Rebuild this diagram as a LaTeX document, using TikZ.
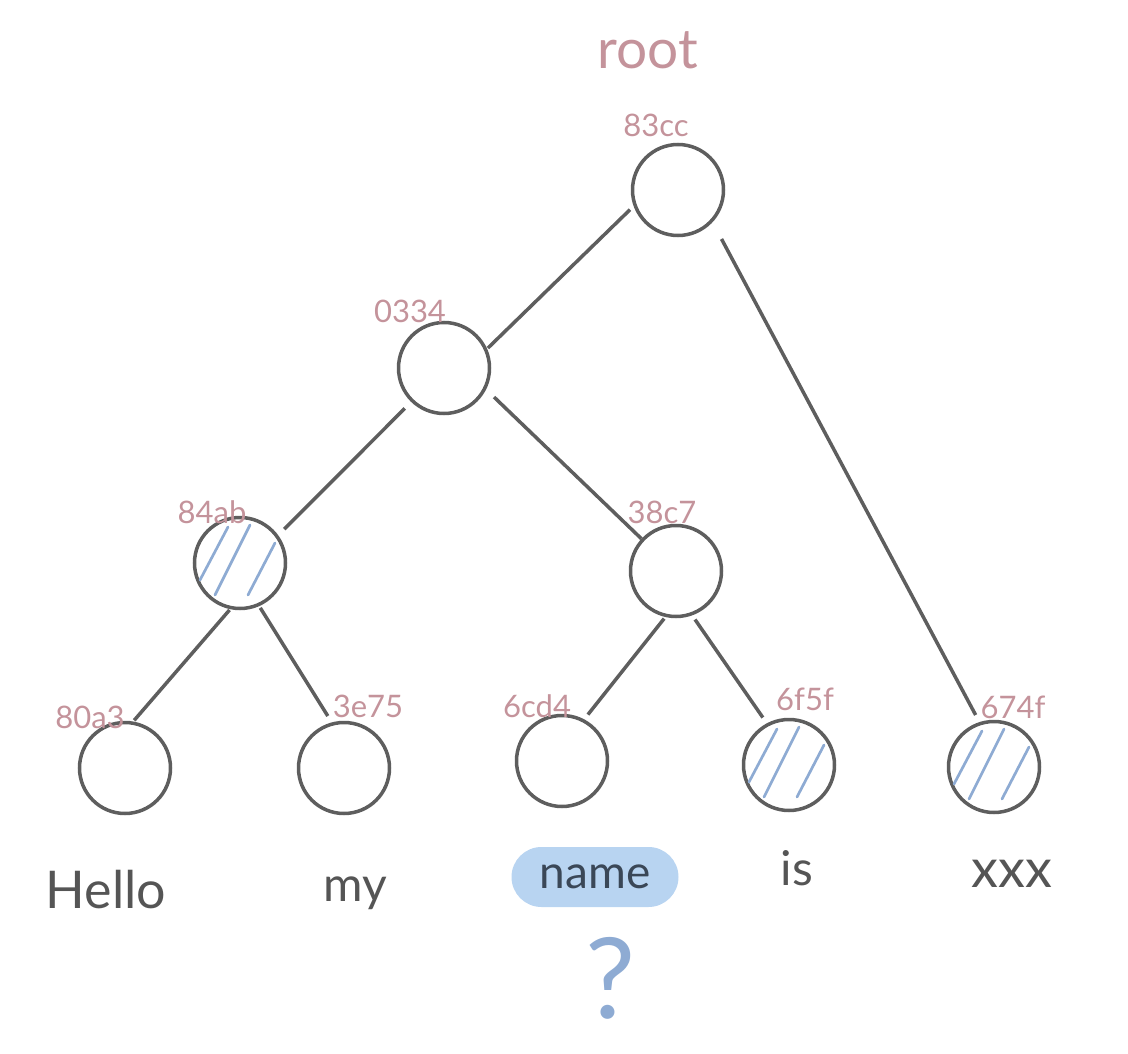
\documentclass[tikz,border=0pt]{standalone}
\usepackage{fontspec}
\setmainfont{Lato}
\definecolor{linegray}{HTML}{5E5E5E}
\definecolor{hashpink}{HTML}{C4939B}
\definecolor{hatchblue}{HTML}{8EABD3}
\definecolor{pillblue}{HTML}{B8D4F1}
\definecolor{namedark}{HTML}{3A4757}
\definecolor{wordgray}{HTML}{555555}
\tikzset{
  tnode/.style={circle, draw=linegray, line width=3.5pt, minimum size=91pt, inner sep=0pt},
  link/.style={draw=linegray, line width=3.5pt},
  hashlbl/.style={text=hashpink, inner sep=0pt, font=\fontsize{31}{33}\selectfont},
  word/.style={text=wordgray, inner sep=0pt, font=\fontsize{48}{52}\selectfont},
  hatchline/.style={draw=hatchblue, line width=2.7pt, line cap=round},
}
% three diagonal strokes inside a marked node
\newcommand\hatchnode[1]{%
  \begin{scope}[shift={(#1.center)}]
    \draw[hatchline] (-12,-36) -- (-40,17);
    \draw[hatchline] (10,-38) -- (-25,32);
    \draw[hatchline] (35,-20) -- (8,32);
  \end{scope}}
\begin{document}
\begin{tikzpicture}[x=1pt,y=-1pt]
\useasboundingbox (0,0) rectangle (1128,1054);

% tree nodes
\node[tnode] (root) at (678,190) {};
\node[tnode] (n0334) at (444,368) {};
\node[tnode] (n84ab) at (240,563) {};
\node[tnode] (n38c7) at (676,571) {};
\node[tnode] (n80a3) at (125,768) {};
\node[tnode] (n3e75) at (344,768) {};
\node[tnode] (n6cd4) at (562,761) {};
\node[tnode] (n6f5f) at (789,765) {};
\node[tnode] (n674f) at (994,767) {};

\hatchnode{n84ab}
\hatchnode{n6f5f}
\hatchnode{n674f}

% links
\draw[link, shorten <=5pt, shorten >=1pt] (root.200) -- (n0334.24);
\draw[link, shorten <=19pt, shorten >=8pt] (root.317) -- (n674f.108);
\draw[link, shorten <=9pt, shorten >=8.5pt] (n0334.226) -- (n84ab.36);
\draw[link, shorten <=11pt, shorten >=0pt] (n0334.333) -- (n38c7.137);
\draw[link, shorten <=1pt, shorten >=1.5pt] (n84ab.258) -- (n80a3.80);
\draw[link, shorten <=2pt, shorten >=7.5pt] (n84ab.294) -- (n3e75.105);
\draw[link, shorten <=2pt, shorten >=6pt] (n38c7.257) -- (n6cd4.62);
\draw[link, shorten <=5pt, shorten >=7pt] (n38c7.290) -- (n6f5f.118);

% hash labels
\node[text=hashpink, inner sep=0pt, font=\fontsize{55}{60}\selectfont] (lroot) at (648,50) {root};
\node[hashlbl] (l83cc) at (656,125) {83cc};
\node[hashlbl] (l0334) at (410,311) {0334};
\node[hashlbl] (l84ab) at (212,512) {84ab};
\node[hashlbl] (l38c7) at (662,512) {38c7};
\node[hashlbl] (l80a3) at (90,717) {80a3};
\node[hashlbl] (l3e75) at (368,706) {3e75};
\node[hashlbl] (l6cd4) at (537,706) {6cd4};
\node[hashlbl] (l6f5f) at (805,699) {6f5f};
\node[hashlbl] (l674f) at (1013,707) {674f};

% words
\node[word, font=\fontsize{52}{56}\selectfont] (wHello) at (106,890) {Hello};
\node[word] (wmy) at (355,893) {my};
\node[fill=pillblue, rounded corners=30pt, minimum width=167pt, minimum height=60pt,
      inner sep=0pt, text=namedark, font=\fontsize{46}{50}\selectfont] (wname) at (595,877) {name};
\node[word] (wis) at (797,868) {is};
\node[word, font=\fontsize{54}{58}\selectfont] (wxxx) at (1012,874) {xxx};
\node[text=hatchblue, inner sep=0pt, font=\fontsize{112}{120}\selectfont] (qmark) at (611,978) {?};
\end{tikzpicture}
\end{document}
